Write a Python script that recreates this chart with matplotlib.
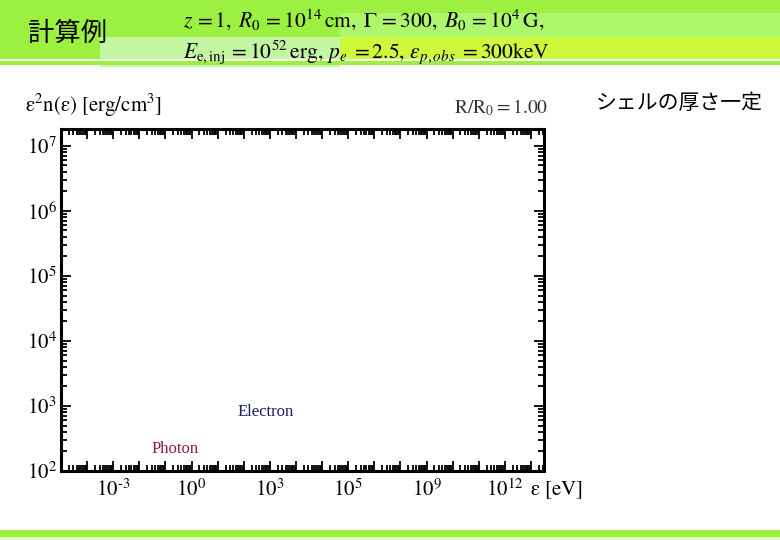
import matplotlib
matplotlib.use("Agg")
import matplotlib.pyplot as plt
from matplotlib.patches import Rectangle
from matplotlib.ticker import LogLocator, NullFormatter
import numpy as np

plt.rcParams['mathtext.fontset'] = 'stix'
plt.rcParams['font.family'] = ['Liberation Serif', 'DejaVu Serif']

# axis data
x_decades = np.arange(-5, 14)
x_label_pos = [1e-3, 1e0, 1e3, 1e6, 1e9, 1e12]
x_label_txt = ['$10^{\u2010 3}$', r'$10^{0}$', r'$10^{3}$', r'$10^{5}$', r'$10^{9}$', r'$10^{12}$']
y_ticks = [1e2, 1e3, 1e4, 1e5, 1e6, 1e7]
y_labels = [r'$10^{2}$', r'$10^{3}$', r'$10^{4}$', r'$10^{5}$', r'$10^{6}$', r'$10^{7}$']
x_range = (1e-5, 10**13.5)
y_range = (1e2, 10**7.26)

title = '計算例'
note = 'シェルの厚さ一定'
line1 = r'$z\, = 1,\;  R_0\, = 10^{14}\,\mathrm{cm},\;  \Gamma\, = 300,\;  B_0\, = 10^{4}\,\mathrm{G},$'
line2 = r'$E_{\mathrm{e,inj}}\, = 10^{52}\,\mathrm{erg},\, p_e\; = 2.5,\, \varepsilon_{p,obs}\; = 300\mathrm{keV}$'

fig = plt.figure(figsize=(7.8, 5.4), dpi=100)

# slide background in pixel coords
bg = fig.add_axes([0, 0, 1, 1], zorder=-1)
bg.set_xlim(0, 780)
bg.set_ylim(540, 0)
bg.axis('off')
bg.add_patch(Rectangle((0, 0), 780, 59, color='#9cf040', lw=0))
bg.add_patch(Rectangle((340, 13), 440, 24, color='#aef66c', lw=0))
bg.add_patch(Rectangle((340, 37), 440, 22, color='#cdf83c', lw=0))
bg.add_patch(Rectangle((100, 37), 240, 30, color='#c2f6a0', lw=0))
bg.add_patch(Rectangle((0, 59), 780, 2, color='white', lw=0))
bg.add_patch(Rectangle((0, 61), 780, 4, color='#9cf040', lw=0))
bg.add_patch(Rectangle((0, 530), 780, 7, color='#9cf03c', lw=0))
bg.add_patch(Rectangle((0, 537), 780, 3, color='#e4fbc8', lw=0))

fig.text(28 / 780, 1 - 33 / 540, title, family=['Noto Sans CJK JP'], fontsize=19,
         va='center', ha='left')
fig.text(596 / 780, 1 - 103 / 540, note, family=['Noto Sans CJK JP'], fontsize=15,
         va='center', ha='left')
fig.text(183 / 780, 1 - 20 / 540, line1, fontsize=15.5, va='center', ha='left')
fig.text(183 / 780, 1 - 52 / 540, line2, fontsize=15.5, va='center', ha='left')

ax = fig.add_axes([61 / 780, 69 / 540, 483 / 780, 342 / 540])
ax.set_xscale('log')
ax.set_yscale('log')
ax.set_xlim(*x_range)
ax.set_ylim(*y_range)

ax.set_xticks(10.0 ** x_decades)
ax.set_xticklabels([x_label_txt[x_label_pos.index(10.0 ** d)] if 10.0 ** d in x_label_pos else ''
                    for d in x_decades])
ax.set_yticks(y_ticks)
ax.set_yticklabels(y_labels)
ax.xaxis.set_minor_locator(LogLocator(base=10, subs=np.arange(2, 10), numticks=200))
ax.yaxis.set_minor_locator(LogLocator(base=10, subs=np.arange(2, 10), numticks=200))
ax.xaxis.set_minor_formatter(NullFormatter())
ax.yaxis.set_minor_formatter(NullFormatter())

ax.tick_params(which='both', direction='in', top=True, right=True, width=1.3, labelsize=15)
ax.tick_params(which='major', length=7)
ax.tick_params(which='minor', length=4)
ax.tick_params(axis='x', pad=6)
ax.tick_params(axis='y', pad=3)
for s in ax.spines.values():
    s.set_linewidth(2.2)

ax.text(25, 105, r'$\mathrm{\varepsilon^2 n(\varepsilon)\ [erg/cm^3]}$', transform=bg.transData,
        fontsize=15, va='center', ha='left')
ax.text(548, 108, r'$\mathrm{R/R_0{=}1.00}$', transform=bg.transData,
        fontsize=14, va='center', ha='right', color='#333333')
ax.text(530, 490, r'$\mathrm{\varepsilon\ [eV]}$', transform=bg.transData,
        fontsize=15, va='center', ha='left')
ax.text(238, 412, 'Electron', transform=bg.transData, fontsize=12, va='center', ha='left',
        color='#1c1c6a')
ax.text(152, 449, 'Photon', transform=bg.transData, fontsize=12, va='center', ha='left',
        color='#8c1c30')

fig.savefig('out.png', dpi=100)
